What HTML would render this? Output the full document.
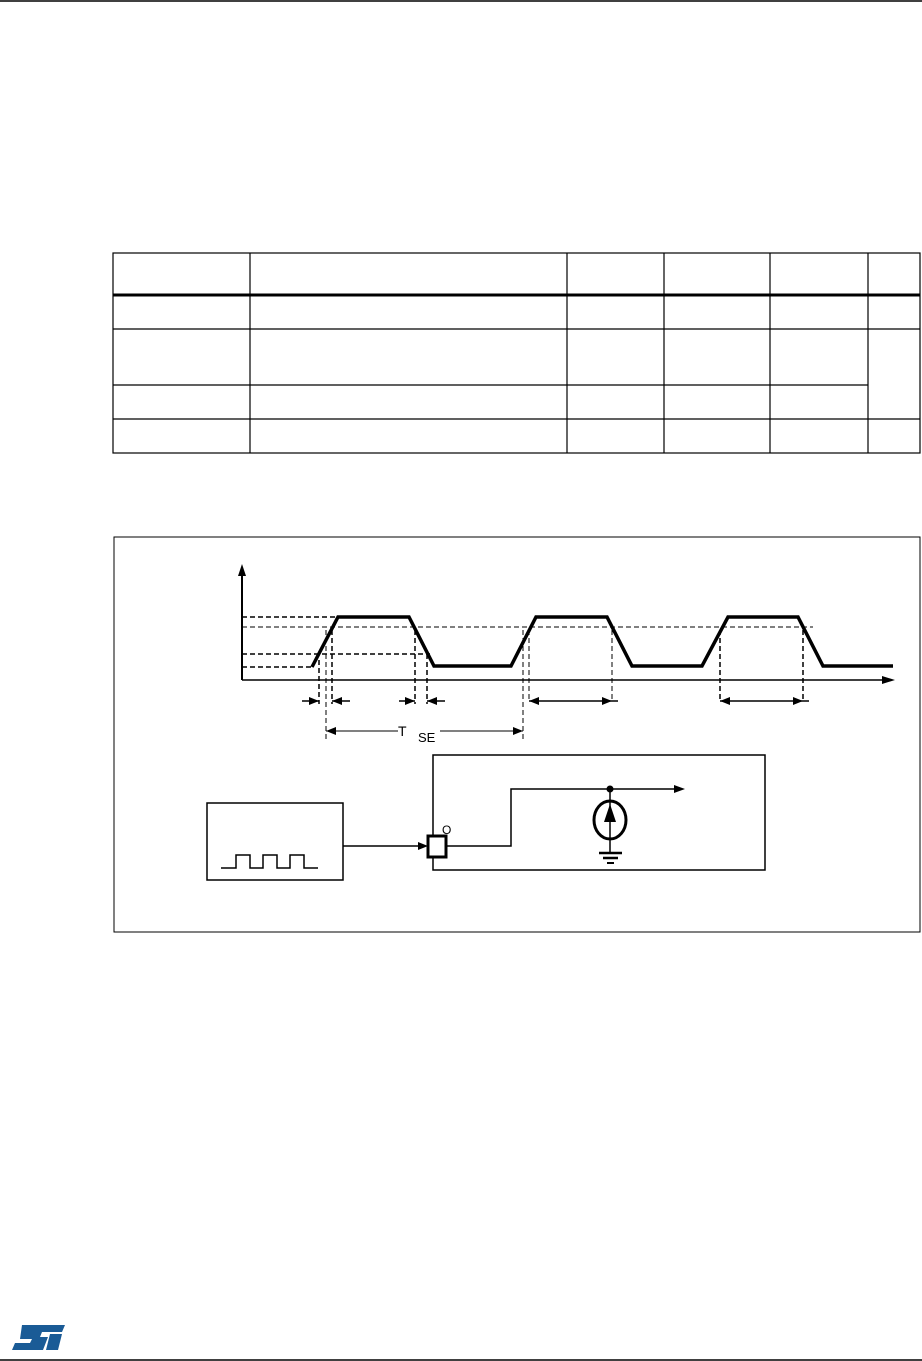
<!DOCTYPE html>
<html><head><meta charset="utf-8"><style>
html,body{margin:0;padding:0;background:#fff;}
svg{display:block;}
text{font-family:"Liberation Sans",sans-serif;}
</style></head><body>
<svg width="922" height="1361" viewBox="0 0 922 1361" xmlns="http://www.w3.org/2000/svg">
<line x1="0" y1="1" x2="922" y2="1" stroke="#000" stroke-width="1.5"/>
<!-- table -->
<g stroke="#000" stroke-width="1.2" fill="none">
<rect x="113" y="253" width="807" height="200"/>
<line x1="250" y1="253" x2="250" y2="453"/>
<line x1="567" y1="253" x2="567" y2="453"/>
<line x1="664" y1="253" x2="664" y2="453"/>
<line x1="770" y1="253" x2="770" y2="453"/>
<line x1="868" y1="253" x2="868" y2="453"/>
<line x1="113" y1="295" x2="920" y2="295" stroke-width="3"/>
<line x1="113" y1="329" x2="920" y2="329"/>
<line x1="113" y1="385" x2="868" y2="385"/>
<line x1="113" y1="419" x2="920" y2="419"/>
</g>
<!-- diagram box -->
<rect x="114" y="537" width="806" height="395" fill="none" stroke="#000" stroke-width="1"/>
<!-- axes -->
<g stroke="#000" fill="none">
<line x1="242" y1="572" x2="242" y2="680" stroke-width="2"/>
<line x1="242" y1="680" x2="885" y2="680" stroke-width="1.5"/>
</g>
<polygon points="242,564 238,576 246,576" fill="#000"/>
<polygon points="895,680 882,676 882,684" fill="#000"/>
<!-- dashed thick horizontals -->
<g stroke="#000" stroke-width="1.5" stroke-dasharray="5,3" fill="none">
<line x1="242" y1="617" x2="338" y2="617"/>
<line x1="242" y1="654" x2="430" y2="654"/>
<line x1="242" y1="667" x2="312" y2="667"/>
<line x1="319" y1="660" x2="319" y2="704"/>
<line x1="332" y1="630" x2="332" y2="704"/>
<line x1="415" y1="630" x2="415" y2="704"/>
<line x1="427" y1="654" x2="427" y2="704"/>
<line x1="720" y1="630" x2="720" y2="701"/>
<line x1="803" y1="630" x2="803" y2="701"/>
</g>
<g stroke="#000" stroke-width="1" stroke-dasharray="5,3" fill="none">
<line x1="242" y1="627" x2="813" y2="627"/>
<line x1="326" y1="630" x2="326" y2="740"/>
<line x1="523" y1="630" x2="523" y2="740"/>
<line x1="529" y1="630" x2="529" y2="701"/>
<line x1="612" y1="630" x2="612" y2="701"/>
</g>
<!-- waveform -->
<polyline points="312,667 338,617 409,617 434,666 511,666 536,617 607,617 632,666 702,666 728,617 798,617 823,666 893,666" fill="none" stroke="#000" stroke-width="3.5" stroke-linejoin="miter"/>
<!-- arrows -->
<g stroke="#000" stroke-width="1.5">
<line x1="302" y1="701" x2="319" y2="701"/>
<line x1="332" y1="701" x2="350" y2="701"/>
<line x1="399" y1="701" x2="415" y2="701"/>
<line x1="427" y1="701" x2="445" y2="701"/>
<line x1="529" y1="701" x2="618" y2="701"/>
<line x1="720" y1="701" x2="809" y2="701"/>
<line x1="326" y1="731" x2="398" y2="731" stroke-width="1"/>
<line x1="440" y1="731" x2="523" y2="731" stroke-width="1"/>
</g>
<g fill="#000">
<polygon points="319,701 309,697 309,705"/>
<polygon points="332,701 342,697 342,705"/>
<polygon points="415,701 405,697 405,705"/>
<polygon points="427,701 437,697 437,705"/>
<polygon points="529,701 539,697 539,705"/>
<polygon points="612,701 602,697 602,705"/>
<polygon points="720,701 730,697 730,705"/>
<polygon points="803,701 793,697 793,705"/>
<polygon points="326,731 336,727 336,735"/>
<polygon points="523,731 513,727 513,735"/>
</g>
<text x="398" y="736" font-size="14">T</text>
<text x="418" y="742" font-size="13">SE</text>
<!-- circuit -->
<rect x="207" y="803" width="136" height="77" fill="none" stroke="#000" stroke-width="1.5"/>
<polyline points="221,868 236,868 236,855 250,855 250,868 263,868 263,855 277,855 277,868 290,868 290,855 304,855 304,868 318,868" fill="none" stroke="#000" stroke-width="1.5"/>
<line x1="343" y1="846" x2="420" y2="846" stroke="#000" stroke-width="1.5"/>
<polygon points="428,846 418,842 418,850" fill="#000"/>
<rect x="433" y="755" width="332" height="115" fill="none" stroke="#000" stroke-width="1.5"/>
<rect x="428" y="836" width="18" height="21" fill="#fff" stroke="#000" stroke-width="3"/>
<text x="442" y="834" font-size="12">O</text>
<polyline points="446,846 511,846 511,789 676,789" fill="none" stroke="#000" stroke-width="1.5"/>
<polygon points="685,789 674,785 674,793" fill="#000"/>
<circle cx="610" cy="789" r="3.5" fill="#000"/>
<line x1="610" y1="789" x2="610" y2="853" stroke="#000" stroke-width="1.5"/>
<ellipse cx="610" cy="820" rx="16" ry="19" fill="none" stroke="#000" stroke-width="3"/>
<polygon points="610,804 604,822 616,822" fill="#000"/>
<line x1="599" y1="853" x2="622" y2="853" stroke="#000" stroke-width="2.5"/>
<line x1="603" y1="858" x2="618" y2="858" stroke="#000" stroke-width="2.5"/>
<line x1="607" y1="863" x2="614" y2="863" stroke="#000" stroke-width="2"/>
<!-- logo -->
<g fill="#1a5b96">
<polygon points="22,1325 65,1325 62,1332 42,1332 40,1337 48,1337 43,1350 12,1350 15,1343 30,1343 32,1339 20,1339"/>
<polygon points="50,1334 62,1334 58,1350 46,1350"/>
</g>
<line x1="0" y1="1360" x2="922" y2="1360" stroke="#000" stroke-width="1.5"/>
</svg>
</body></html>
